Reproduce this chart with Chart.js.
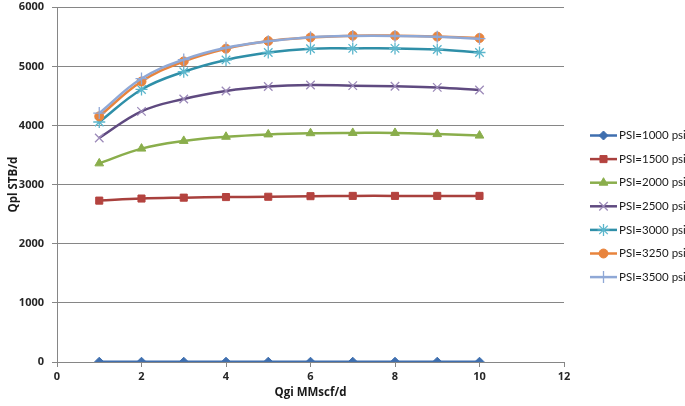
<!DOCTYPE html>
<html>
<head>
<meta charset="utf-8">
<script src="https://cdn.jsdelivr.net/npm/chart.js@4"></script>
<style>
    html, body { margin: 0; padding: 0; background: #fff; }
    #wrap { width: 685px; height: 406px; }
</style>
</head>
<body>
<div id="wrap"><canvas id="qplChart" width="685" height="406"></canvas></div>
<script>
// Gas injection rate (MMscf/d) on the x axis
const qgi = [1, 2, 3, 4, 5, 6, 7, 8, 9, 10];

// Liquid rate (STB/d) per wellhead pressure
const psi1000 = [5, 5, 5, 5, 5, 5, 5, 5, 5, 5];
const psi1500 = [2730, 2765, 2780, 2790, 2795, 2805, 2810, 2810, 2810, 2810];
const psi2000 = [3360, 3610, 3740, 3810, 3850, 3870, 3875, 3875, 3855, 3830];
const psi2500 = [3790, 4240, 4450, 4585, 4660, 4685, 4675, 4665, 4645, 4600];
const psi3000 = [4060, 4610, 4910, 5110, 5235, 5300, 5305, 5305, 5285, 5235];
const psi3250 = [4155, 4745, 5085, 5300, 5430, 5490, 5520, 5520, 5505, 5480];
const psi3500 = [4210, 4795, 5115, 5315, 5425, 5495, 5515, 5515, 5500, 5470];

const seriesNames = ['PSI=1000 psi', 'PSI=1500 psi', 'PSI=2000 psi', 'PSI=2500 psi',
                     'PSI=3000 psi', 'PSI=3250 psi', 'PSI=3500 psi'];

const xTitle = 'Qgi MMscf/d';
const yTitle = 'Qpl STB/d';

// Excel-ish styles for each series: line colour, marker colour, marker shape
const styles = [
    { line: '#3F6FAF', mark: '#3F6FAF', shape: 'rectRot', r: 4.5 },
    { line: '#A8403D', mark: '#B4433F', shape: 'rect', r: 5 },
    { line: '#8AAE4C', mark: '#8AAE4C', shape: 'triangle', r: 5 },
    { line: '#5F4A80', mark: '#9C8AB9', shape: 'crossRot', r: 6 },
    { line: '#2F8FA8', mark: '#5BB6CC', shape: 'star', r: 6 },
    { line: '#E8843D', mark: '#E8843D', shape: 'circle', r: 4.5 },
    { line: '#8FA8D6', mark: '#8FA8D6', shape: 'cross', r: 6 }
];

const allSeries = [psi1000, psi1500, psi2000, psi2500, psi3000, psi3250, psi3500];

const datasets = allSeries.map((vals, i) => {
    const s = styles[i];
    const filled = s.shape !== 'crossRot' && s.shape !== 'star' && s.shape !== 'cross';
    return {
        label: seriesNames[i],
        data: vals.map((v, k) => ({ x: qgi[k], y: v })),
        borderColor: s.line,
        backgroundColor: s.mark,
        borderWidth: 2.5,
        pointStyle: s.shape,
        pointRadius: s.r,
        pointBackgroundColor: s.mark,
        pointBorderColor: s.mark,
        pointBorderWidth: filled ? 1 : 1.3,
        tension: 0.4,
        fill: false,
        // last series sits on top, like in Excel
        order: allSeries.length - i
    };
});

// Legend drawn by hand so each entry shows a line with its marker in the middle
const sideLegend = {
    id: 'sideLegend',
    afterDraw(chart) {
        const ctx = chart.ctx;
        const x0 = 590, x1 = 617, top = 135.5, step = 23.6;
        ctx.save();
        chart.data.datasets.forEach((ds, i) => {
            const y = top + i * step;
            ctx.strokeStyle = ds.borderColor;
            ctx.lineWidth = 2.5;
            ctx.beginPath();
            ctx.moveTo(x0, y);
            ctx.lineTo(x1, y);
            ctx.stroke();
            ctx.fillStyle = ds.pointBackgroundColor;
            ctx.strokeStyle = ds.pointBorderColor;
            ctx.lineWidth = ds.pointBorderWidth;
            Chart.helpers.drawPoint(ctx, {
                pointStyle: ds.pointStyle,
                radius: ds.pointRadius,
                rotation: 0,
                borderWidth: ds.pointBorderWidth
            }, (x0 + x1) / 2, y);
            ctx.fillStyle = '#1a1a1a';
            ctx.font = '11.5px Lato, "Open Sans", sans-serif';
            ctx.textAlign = 'left';
            ctx.textBaseline = 'middle';
            ctx.fillText(ds.label, x1 + 2, y);
        });
        ctx.restore();
    }
};

function initChart() {
    const ctx = document.getElementById('qplChart').getContext('2d');

    Chart.defaults.font.family = "'Open Sans', Lato, sans-serif";
    Chart.defaults.color = '#262626';

    new Chart(ctx, {
        type: 'line',
        data: { datasets: datasets },
        options: {
            responsive: false,
            animation: false,
            layout: { padding: { top: 0, right: 121, bottom: 0, left: 0 } },
            plugins: {
                legend: { display: false },
                tooltip: { enabled: false }
            },
            scales: {
                x: {
                    type: 'linear',
                    min: 0,
                    max: 12,
                    ticks: { stepSize: 2, padding: 3, color: '#262626', font: { size: 11, weight: 'bold' } },
                    grid: { drawOnChartArea: false, drawTicks: true, tickLength: 5, color: '#868686' },
                    border: { color: '#868686', width: 1 },
                    title: {
                        display: true,
                        text: xTitle,
                        color: '#1a1a1a',
                        font: { size: 11.5, weight: 'bold' },
                        padding: { top: 0, bottom: 6 }
                    },
                    afterFit(scale) {
                        scale.height = 44;
                    }
                },
                y: {
                    min: 0,
                    max: 6000,
                    ticks: {
                        stepSize: 1000,
                        padding: 8,
                        color: '#262626',
                        font: { size: 11, weight: 'bold' },
                        // plain numbers, no thousands separator
                        callback: v => String(v)
                    },
                    grid: { color: '#868686', tickLength: 5 },
                    border: { color: '#868686', width: 1 },
                    title: {
                        display: true,
                        text: yTitle,
                        color: '#1a1a1a',
                        font: { size: 11.5, weight: 'bold' },
                        padding: { top: 7, bottom: 0 }
                    },
                    afterFit(scale) {
                        scale.width = 57;
                        // keep the top gridline close to the canvas edge
                        scale.paddingTop = 3;
                        scale.paddingBottom = 0;
                    }
                }
            }
        },
        plugins: [sideLegend]
    });
}

document.addEventListener('DOMContentLoaded', initChart);
</script>
</body>
</html>
